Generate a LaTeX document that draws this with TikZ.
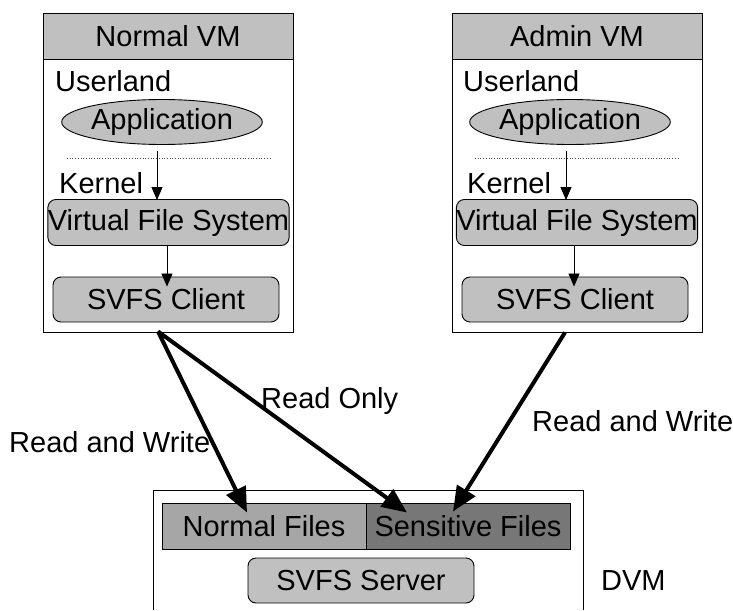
\documentclass[tikz,border=0pt]{standalone}
\usepackage{fontspec}
\setmainfont{Liberation Sans}
\usetikzlibrary{arrows.meta,shapes.geometric,calc}
\definecolor{boxgray}{HTML}{C0C0C0}
\definecolor{filegray}{HTML}{A6A6A6}
\definecolor{securegray}{HTML}{777777}
\begin{document}
\begin{tikzpicture}[x=1pt,y=-1pt,
  every node/.style={font=\fontsize{29}{31}\selectfont, inner sep=0pt},
  vmbox/.style={draw, line width=0.9pt, minimum width=250pt, minimum height=319pt},
  header/.style={draw, line width=0.9pt, fill=boxgray, minimum width=250pt, minimum height=46pt},
  appnode/.style={draw, ellipse, fill=boxgray, line width=0.9pt, minimum width=182pt, minimum height=45pt},
  layerbox/.style={draw, rounded corners=8pt, fill=boxgray, line width=0.9pt, minimum height=46pt},
  filebox/.style={draw, line width=0.9pt, minimum width=204pt, minimum height=46pt},
  plain/.style={anchor=base west},
  thinarrow/.style={-{Triangle[length=13pt,width=11pt]}, line width=0.8pt},
  thickarrow/.style={-{Triangle[length=25pt,width=21pt]}, line width=4pt},
  separator/.style={dotted, line width=0.7pt, draw=black!70}]
\useasboundingbox (0,0) rectangle (733,610);

% Normal VM
\node[vmbox] (nvm) at (168,172.5) {};
\node[header] (nvmhead) at (168,36) {Normal VM};
\node[plain] (nuser) at (55,92) {Userland};
\node[appnode] (napp) at (162,122) {Application};
\draw[separator] (67,158) -- (271,158);
\node[plain] (nkern) at (59,193) {Kernel};
\node[layerbox, minimum width=241pt] (nvfs) at (168.5,222.5) {Virtual File System};
\node[layerbox, minimum width=226pt, minimum height=45pt] (ncli) at (166,299.5) {SVFS Client};

% Admin VM
\node[vmbox] (avm) at (577,172.5) {};
\node[header] (avmhead) at (577,36) {Admin VM};
\node[plain] (auser) at (463,92) {Userland};
\node[appnode] (aapp) at (570,122) {Application};
\draw[separator] (475,158) -- (679,158);
\node[plain] (akern) at (467,193) {Kernel};
\node[layerbox, minimum width=240pt] (avfs) at (577,222.5) {Virtual File System};
\node[layerbox, minimum width=226pt, minimum height=45pt] (acli) at (575,299.5) {SVFS Client};

% call paths inside each VM
\draw[thinarrow] ($(napp.south)+(-5,6)$) -- ($(nvfs.north)+(-11.5,1)$);
\draw[thinarrow] ($(nvfs.south)+(-1.5,0)$) -- ($(ncli.north)+(1,10)$);
\draw[thinarrow] ($(aapp.south)+(-4,6)$) -- ($(avfs.north)+(-11,1)$);
\draw[thinarrow] ($(avfs.south)+(-3,0)$) -- ($(acli.north)+(-1,10)$);

% DVM
\coordinate (dvmbl) at (153,610);
\coordinate (dvmbr) at (583,610);
\draw[line width=0.9pt] (dvmbl) -- (153,490) -- (583,490) -- (dvmbr);
\node[filebox, fill=filegray] (nfiles) at (264,526) {Normal Files};
\node[filebox, fill=securegray] (sfiles) at (468,526) {Sensitive Files};
\node[layerbox, minimum width=226pt, minimum height=45pt] (server) at (361,580.5) {SVFS Server};
\node[plain] (dvm) at (601,590) {DVM};

% access paths
\draw[thickarrow] ($(nvm.south)+(-10,-1)$) -- ($(nfiles.north)+(-17,10)$);
\draw[thickarrow] ($(nvm.south)+(-10,-1)$) -- ($(sfiles.north)+(-61,10)$);
\draw[thickarrow] ($(avm.south)+(-12,0)$) -- ($(sfiles.north)+(-15,9)$);

\node[plain] (lrw) at (9,452) {Read and Write};
\node[plain] (lro) at (261,408) {Read Only};
\node[plain] (arw) at (532,431) {Read and Write};
\end{tikzpicture}
\end{document}
